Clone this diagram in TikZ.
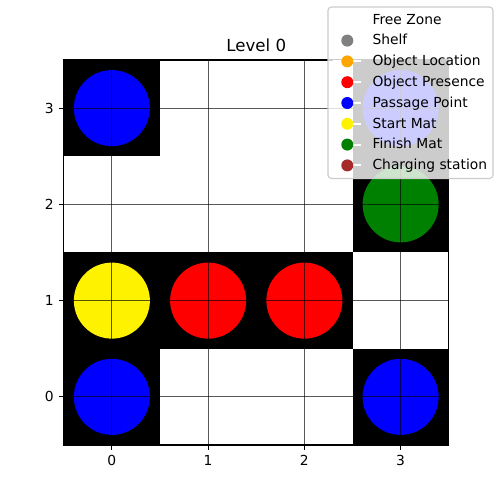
\documentclass[tikz,border=0pt]{standalone}
\usepackage{fontspec}
\setmainfont{DejaVu Sans}
\definecolor{mgreen}{RGB}{0,128,0}
\definecolor{morange}{RGB}{255,165,0}
\definecolor{mbrown}{RGB}{165,42,42}
\definecolor{mgray}{RGB}{128,128,128}
\definecolor{legedge}{RGB}{204,204,204}
\begin{document}
\begin{tikzpicture}[x=0.7227pt,y=0.7227pt,
  cellbox/.style={fill=black},
  gridline/.style={draw=black,draw opacity=0.65,line width=0.55pt},
  spine/.style={draw=black,line width=0.8pt},
  tick/.style={draw=black,line width=0.8pt},
  ticklabel/.style={font=\fontsize{10}{12}\selectfont,inner sep=0pt},
  legtext/.style={font=\fontsize{10}{12}\selectfont,inner sep=0pt,anchor=base west},
  legline/.style={draw=white,line width=1.5pt}]
\useasboundingbox (0,0) rectangle (500,500);
\fill[white] (0,0) rectangle (500,500);
% data scope
\begin{scope}[shift={(111.875,103.125)},scale=96.25]
  \foreach \cx/\cy in {0/3,3/3,3/2,0/1,1/1,2/1,0/0,3/0}
    \fill[cellbox] (\cx-0.5,\cy-0.5) rectangle (\cx+0.5,\cy+0.5);
  \foreach \cx/\cy/\col in {0/3/blue,3/3/blue,3/2/mgreen,0/1/yellow,1/1/red,2/1/red,0/0/blue,3/0/blue}
    \fill[\col] (\cx,\cy) circle[radius=0.395];
  \foreach \k in {0,1,2,3} {
    \draw[gridline] (\k,-0.5) -- (\k,3.5);
    \draw[gridline] (-0.5,\k) -- (3.5,\k);
  }
  \draw[spine] (-0.5,-0.5) rectangle (3.5,3.5);
\end{scope}
% ticks
\foreach \k in {0,1,2,3} {
  \pgfmathsetmacro{\px}{111.875+96.25*\k}
  \pgfmathsetmacro{\py}{103.125+96.25*\k}
  \draw[tick] (\px,55) -- (\px,50.14);
  \draw[tick] (63.75,\py) -- (58.89,\py);
  \node[ticklabel,anchor=north] (xl\k) at (\px,45.3) {\k};
  \node[ticklabel,anchor=east] (yl\k) at (54,\py) {\k};
}
\node[font=\fontsize{12}{14}\selectfont,inner sep=0pt,anchor=base] (title) at (256.25,448.3) {Level 0};
% legend
\draw[fill=white,fill opacity=0.8,draw=legedge,line width=0.8pt,rounded corners=2.5pt] (328,321.5) rectangle (493,493);
\foreach \i/\lab/\col in {0/Free Zone/white,1/Shelf/mgray,2/Object Location/morange,3/Object Presence/red,4/Passage Point/blue,5/Start Mat/yellow,6/Finish Mat/mgreen,7/Charging station/mbrown} {
  \pgfmathsetmacro{\my}{500-19.8-20.8*\i}
  \pgfmathsetmacro{\ty}{500-24.2-20.8*\i}
  \draw[legline] (333,\my) -- (361,\my);
  \fill[\col] (347.3,\my) circle[radius=6];
  \node[legtext] (leg\i) at (372.3,\ty) {\lab};
}
\end{tikzpicture}
\end{document}
